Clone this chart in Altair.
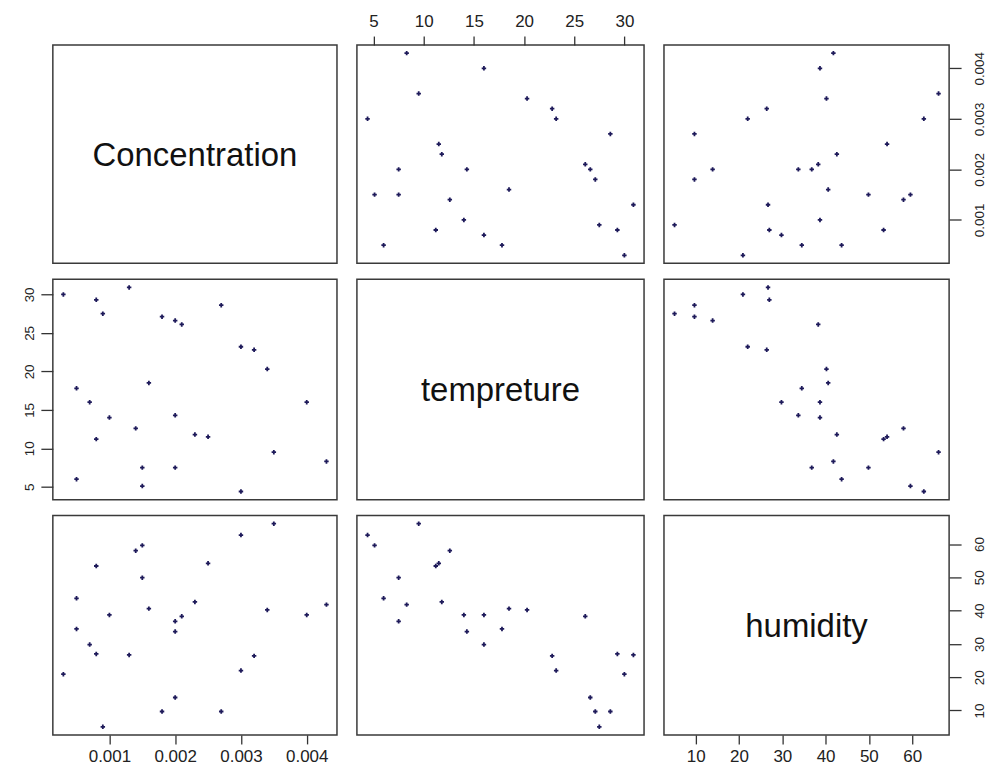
import altair as alt
import pandas as pd

concentration = [0.0003, 0.0005, 0.0005, 0.0007, 0.0008, 0.0008, 0.0009, 0.0010,
                 0.0013, 0.0014, 0.0015, 0.0015, 0.0016, 0.0018, 0.0020, 0.0020,
                 0.0020, 0.0021, 0.0023, 0.0025, 0.0027, 0.0030, 0.0030, 0.0032,
                 0.0034, 0.0035, 0.0040, 0.0043]
tempreture = [30.0, 6.0, 17.8, 16.0, 11.2, 29.3, 27.5, 14.0,
              30.9, 12.6, 5.1, 7.5, 18.5, 27.1, 7.5, 14.3,
              26.6, 26.1, 11.8, 11.5, 28.6, 4.4, 23.2, 22.8,
              20.3, 9.5, 16.0, 8.3]
humidity = [20.9, 43.7, 34.5, 29.8, 53.4, 27.0, 5.1, 38.7,
            26.7, 58.0, 59.6, 49.9, 40.6, 9.7, 36.8, 33.7,
            13.9, 38.3, 42.6, 54.2, 9.7, 62.7, 22.0, 26.4,
            40.2, 66.1, 38.7, 41.8]

names = ["Concentration", "tempreture", "humidity"]
tick_values = {
    "Concentration": [0.001, 0.002, 0.003, 0.004],
    "tempreture": [5, 10, 15, 20, 25, 30],
    "humidity": [10, 20, 30, 40, 50, 60],
}
tick_formats = {"Concentration": ".3f", "tempreture": "d", "humidity": "d"}

df = pd.DataFrame({"Concentration": concentration,
                   "tempreture": tempreture,
                   "humidity": humidity})


def padded_domain(vals):
    lo, hi = min(vals), max(vals)
    ext = (hi - lo) * 0.04
    return [lo - ext, hi + ext]


domains = {n: padded_domain(df[n].tolist()) for n in names}

col_w = [285, 288, 286]
row_h = [219, 221, 220]

FONT = "Liberation Sans"


def h_axis(var, orient):
    return alt.Axis(orient=orient, values=tick_values[var], format=tick_formats[var],
                    title=None, domain=False, grid=False, tickSize=9, tickWidth=1.3,
                    tickColor="#333333", labelFontSize=17, labelFont=FONT,
                    labelColor="#222222", labelPadding=6 if orient == "top" else 5,
                    labelFlush=False, labelOverlap=False)


def v_axis(var, orient):
    return alt.Axis(orient=orient, values=tick_values[var], format=tick_formats[var],
                    title=None, domain=False, grid=False, tickSize=12, tickWidth=1.3,
                    tickColor="#333333", labelFontSize=13.5, labelFont=FONT,
                    labelColor="#222222", labelAngle=270, labelAlign="center",
                    labelBaseline="bottom" if orient == "left" else "top",
                    labelPadding=4 if orient == "left" else 11,
                    labelFlush=False, labelOverlap=False)


def panel(r, c):
    xv, yv = names[c], names[r]
    x_axis = None
    y_axis = None
    if r == 0 and c % 2 == 1:
        x_axis = h_axis(xv, "top")
    if r == 2 and c % 2 == 0:
        x_axis = h_axis(xv, "bottom")
    if c == 0 and r % 2 == 1:
        y_axis = v_axis(yv, "left")
    if c == 2 and r % 2 == 0:
        y_axis = v_axis(yv, "right")

    x = alt.X(f"{xv}:Q", scale=alt.Scale(domain=domains[xv], nice=False, zero=False),
              axis=x_axis)
    y = alt.Y(f"{yv}:Q", scale=alt.Scale(domain=domains[yv], nice=False, zero=False),
              axis=y_axis)

    if r == c:
        pts = alt.Chart(df).mark_point(opacity=0).encode(x=x, y=y)
        txt = alt.Chart(pd.DataFrame({"label": [names[r]]})).mark_text(
            font=FONT, fontSize=33, color="#111111", baseline="middle", align="center"
        ).encode(x=alt.value(col_w[c] / 2), y=alt.value(row_h[r] / 2 + 2),
                 text="label:N")
        return alt.layer(pts, txt).properties(width=col_w[c], height=row_h[r])

    return alt.Chart(df).mark_point(
        shape="cross", filled=True, size=20, color="#1e1a5a", opacity=1
    ).encode(x=x, y=y).properties(width=col_w[c], height=row_h[r])


panels = [panel(r, c) for r in range(3) for c in range(3)]

chart = alt.concat(*panels, columns=3, spacing={"row": 16, "column": 20},
                   bounds="flush").properties(
    padding={"left": 22, "top": 10, "right": 0, "bottom": 0},
    background="white",
).resolve_scale(x="independent", y="independent").configure_view(
    stroke="#3a3a3a", strokeWidth=1.5
)

chart.save("out.html", embed_options={"renderer": "svg", "actions": False})
